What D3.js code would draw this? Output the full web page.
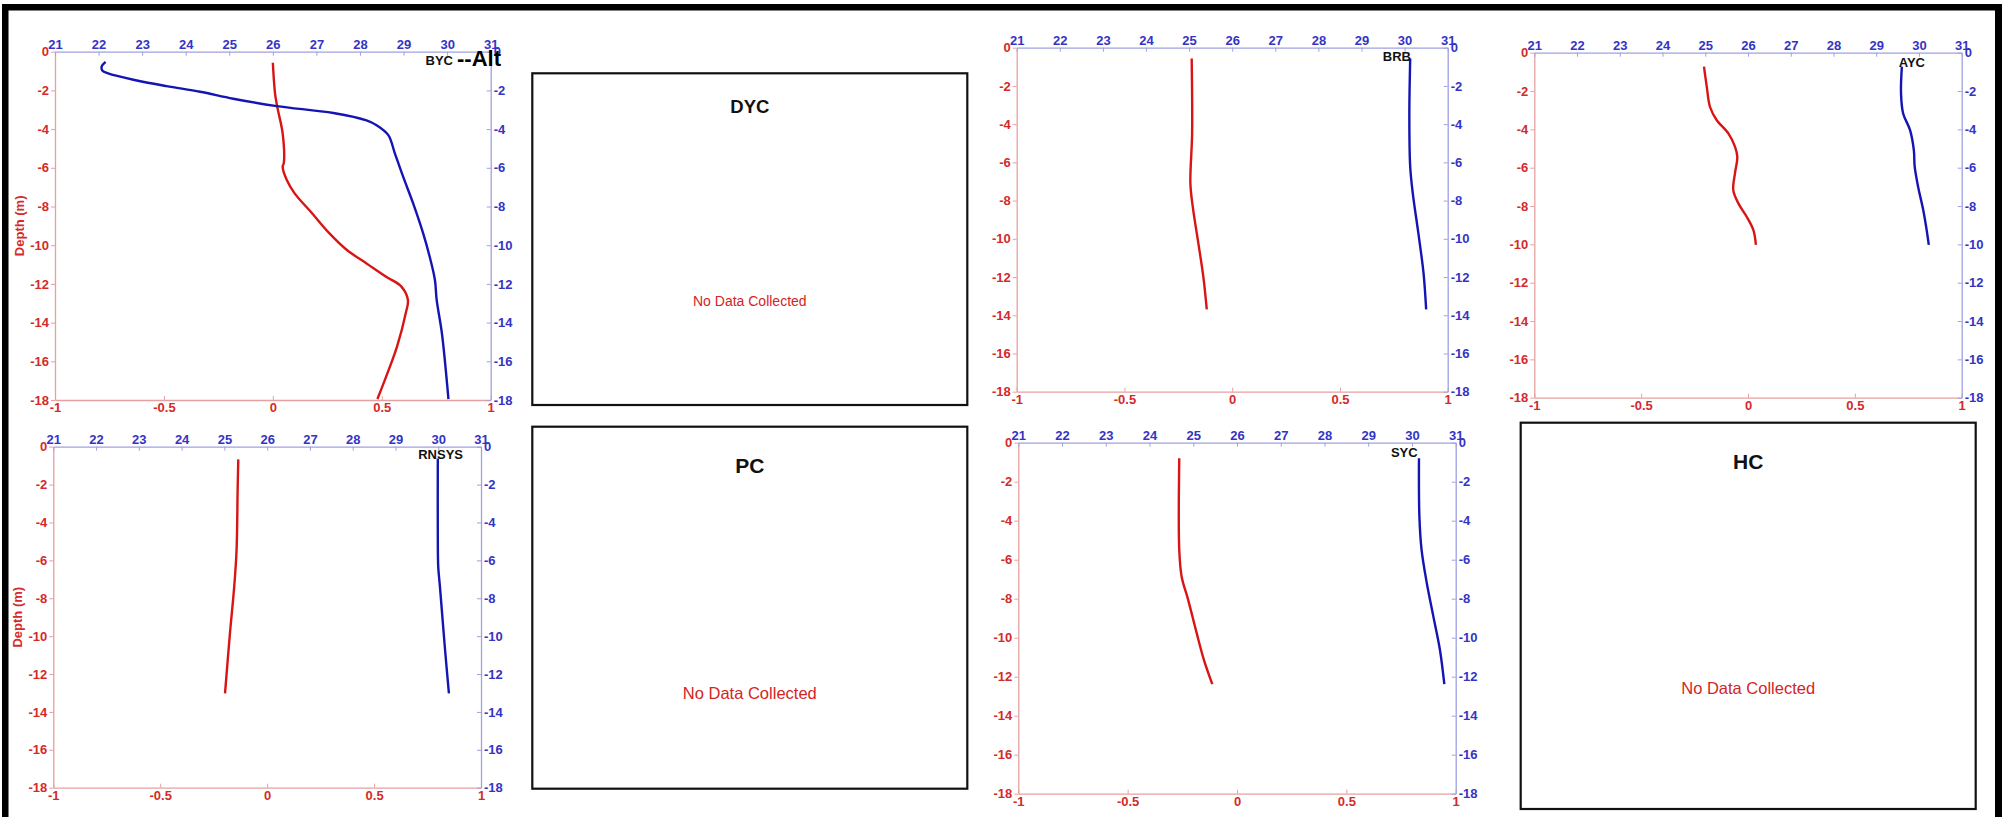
<!DOCTYPE html>
<html>
<head>
<meta charset="utf-8">
<script src="https://cdn.jsdelivr.net/npm/d3@7"></script>
<style>
body { margin: 0; background: #fff; }
svg { display: block; }
</style>
</head>
<body>
<script>
'use strict'

// axis ticks
var depthTicks = [0, -2, -4, -6, -8, -10, -12, -14, -16, -18];
var tempTicks = [21, 22, 23, 24, 25, 26, 27, 28, 29, 30, 31];
var redTicks = [-1, -0.5, 0, 0.5, 1];

// BYC
var bycBlueDepth = [-0.53, -0.78, -0.98, -1.12, -1.45, -1.78, -2.07, -2.43, -2.81, -3.17, -3.55, -3.8, -4.31, -5.25, -6.46, -7.84, -9.39, -10.6, -11.8, -12.83, -14.55, -17.95];
var bycBlue = [22.16, 22.07, 22.09, 22.22, 22.8, 23.56, 24.33, 25.09, 26.09, 27.39, 28.15, 28.38, 28.65, 28.8, 28.99, 29.22, 29.45, 29.6, 29.72, 29.76, 29.88, 30.03];
var bycRedDepth = [-0.57, -1.5, -2.15, -2.84, -4.22, -5.77, -5.94, -6.63, -7.32, -8.35, -9.39, -10.25, -10.94, -11.63, -12.14, -12.83, -13.52, -15.24, -16.79, -17.95];
var bycRed = [0.0, 0.005, 0.01, 0.02, 0.045, 0.05, 0.045, 0.064, 0.1, 0.18, 0.26, 0.34, 0.43, 0.52, 0.59, 0.62, 0.61, 0.57, 0.52, 0.48];

// RNSYS
var rnsysRedDepth = [-0.67, -2.29, -5.45, -7.39, -9.85, -13.02];
var rnsysRed = [-0.135, -0.138, -0.143, -0.154, -0.174, -0.197];
var rnsysBlueDepth = [-0.62, -4.58, -6.33, -7.39, -10.73, -13.02];
var rnsysBlue = [29.99, 29.99, 30.0, 30.04, 30.16, 30.25];

// BRB
var brbRedDepth = [-0.56, -4.48, -7.1, -8.32, -10.24, -11.98, -13.69];
var brbRed = [-0.188, -0.186, -0.194, -0.183, -0.157, -0.134, -0.118];
var brbBlueDepth = [-0.56, -3.61, -6.23, -7.62, -9.72, -11.81, -13.69];
var brbBlue = [30.13, 30.11, 30.13, 30.19, 30.32, 30.44, 30.5];

// AYC
var aycRedDepth = [-0.73, -1.77, -2.82, -3.51, -4.21, -4.9, -5.43, -6.3, -7.17, -7.86, -8.56, -9.25, -10.03];
var aycRed = [-0.206, -0.193, -0.178, -0.147, -0.092, -0.061, -0.05, -0.061, -0.069, -0.045, -0.006, 0.025, 0.037];
var aycBlueDepth = [-0.73, -2.12, -3.17, -4.03, -5.08, -5.95, -6.99, -8.21, -9.25, -10.03];
var aycBlue = [29.6, 29.58, 29.63, 29.79, 29.88, 29.9, 29.98, 30.1, 30.18, 30.23];

// SYC
var sycRedDepth = [-0.8, -5.5, -6.87, -8.07, -9.78, -11.15, -12.38];
var sycRed = [-0.264, -0.264, -0.253, -0.223, -0.184, -0.151, -0.113];
var sycBlueDepth = [-0.8, -3.79, -5.5, -7.21, -8.92, -10.63, -12.38];
var sycBlue = [30.16, 30.17, 30.22, 30.34, 30.49, 30.64, 30.74];

// stations without data
var emptyStations = ["DYC", "PC", "HC"];
var noDataText = "No Data Collected";

function zipProfile(values, depths) {
  return values.map(function(v, i) { return {v: v, d: depths[i]}; });
}

var profiles = [
  {name: "BYC", red: zipProfile(bycRed, bycRedDepth), blue: zipProfile(bycBlue, bycBlueDepth)},
  {name: "RNSYS", red: zipProfile(rnsysRed, rnsysRedDepth), blue: zipProfile(rnsysBlue, rnsysBlueDepth)},
  {name: "BRB", red: zipProfile(brbRed, brbRedDepth), blue: zipProfile(brbBlue, brbBlueDepth)},
  {name: "AYC", red: zipProfile(aycRed, aycRedDepth), blue: zipProfile(aycBlue, aycBlueDepth)},
  {name: "SYC", red: zipProfile(sycRed, sycRedDepth), blue: zipProfile(sycBlue, sycBlueDepth)}
];

// layout of each panel on the page
var plotLayout = {
  BYC:   {left: 55,   top: 51.7,  right: 490.7,  bottom: 400,   depthLabel: true,  tagRight: 37.7, tagDown: 13.5, extra: "--Alt"},
  RNSYS: {left: 53.3, top: 446.7, right: 481,    bottom: 787.7, depthLabel: true,  tagRight: 18,   tagDown: 12.5},
  BRB:   {left: 1016.7, top: 47.7, right: 1447.7, bottom: 391.7, depthLabel: false, tagRight: 36.7, tagDown: 13.5},
  AYC:   {left: 1534.3, top: 52.7, right: 1961.7, bottom: 397.7, depthLabel: false, tagRight: 36.7, tagDown: 14},
  SYC:   {left: 1018.3, top: 442.7, right: 1455.7, bottom: 793.7, depthLabel: false, tagRight: 38,  tagDown: 14.3}
};
var boxLayout = {
  DYC: {left: 532.3, top: 73.3,  right: 967.3,  bottom: 405,   titleY: 113.3, titleSize: 18.5, msgY: 306, msgSize: 14},
  PC:  {left: 532.3, top: 426.7, right: 967.3,  bottom: 788.7, titleY: 472.7, titleSize: 21,   msgY: 699, msgSize: 16.5},
  HC:  {left: 1520.7, top: 422.7, right: 1975.7, bottom: 809,  titleY: 469.3, titleSize: 21,   msgY: 694, msgSize: 16.5}
};

var W = 2007, H = 817;
var FONT = "'Liberation Sans', Arial, Helvetica, sans-serif";
var redLabel = "#d42a2a", redAxis = "#e6a0a0", redLine = "#d81414";
var blueLabel = "#3434c4", blueAxis = "#a0a0e2", blueLine = "#1414b4";

var svg = d3.select("body")
  .append("svg")
  .attr("width", W)
  .attr("height", H);

svg.append("rect").attr("width", W).attr("height", H).attr("fill", "#fff");

var fmt = function(d) { return String(d); };

function styleAxis(g, lineColor, textColor) {
  g.attr("font-size", 13)
   .attr("font-family", FONT)
   .attr("font-weight", "bold");
  g.select(".domain").attr("stroke", lineColor).attr("stroke-width", 1.3);
  g.selectAll(".tick line").attr("stroke", lineColor).attr("stroke-width", 1);
  g.selectAll(".tick text").attr("fill", textColor);
}

profiles.forEach(function(p) {
  var L = plotLayout[p.name];
  var xRed = d3.scaleLinear().domain([-1, 1]).range([L.left, L.right]);
  var xBlue = d3.scaleLinear().domain([21, 31]).range([L.left, L.right]);
  var y = d3.scaleLinear().domain([-18, 0]).range([L.bottom, L.top]);

  var g = svg.append("g").attr("class", "panel");

  // red axes (bottom, left)
  g.append("g")
    .attr("transform", "translate(0," + L.bottom + ")")
    .call(d3.axisBottom(xRed).tickValues(redTicks).tickFormat(fmt).tickSize(-4).tickSizeOuter(0).tickPadding(3))
    .call(styleAxis, redAxis, redLabel);
  g.append("g")
    .attr("transform", "translate(" + L.left + ",0)")
    .call(d3.axisLeft(y).tickValues(depthTicks).tickFormat(fmt).tickSize(4).tickSizeOuter(0).tickPadding(2))
    .call(styleAxis, redAxis, redLabel);

  // blue axes (top, right)
  g.append("g")
    .attr("transform", "translate(0," + L.top + ")")
    .call(d3.axisTop(xBlue).tickValues(tempTicks).tickFormat(fmt).tickSize(-4).tickSizeOuter(0).tickPadding(3))
    .call(styleAxis, blueAxis, blueLabel);
  g.append("g")
    .attr("transform", "translate(" + L.right + ",0)")
    .call(d3.axisRight(y).tickValues(depthTicks).tickFormat(fmt).tickSize(-4).tickSizeOuter(0).tickPadding(3))
    .call(styleAxis, blueAxis, blueLabel);

  if (L.depthLabel) {
    g.append("text")
      .attr("transform", "translate(" + (L.left - 31) + "," + ((L.top + L.bottom) / 2) + ") rotate(-90)")
      .attr("text-anchor", "middle")
      .attr("font-family", FONT)
      .attr("font-weight", "bold")
      .attr("font-size", 13)
      .attr("fill", redLabel)
      .text("Depth (m)");
  }

  var redPath = d3.line()
    .x(function(d) { return xRed(d.v); })
    .y(function(d) { return y(d.d); })
    .curve(d3.curveCatmullRom.alpha(0.5));
  var bluePath = d3.line()
    .x(function(d) { return xBlue(d.v); })
    .y(function(d) { return y(d.d); })
    .curve(d3.curveCatmullRom.alpha(0.5));

  g.append("path")
    .datum(p.red)
    .attr("d", redPath)
    .attr("fill", "none")
    .attr("stroke", redLine)
    .attr("stroke-width", 2.4)
    .attr("stroke-linejoin", "round");
  g.append("path")
    .datum(p.blue)
    .attr("d", bluePath)
    .attr("fill", "none")
    .attr("stroke", blueLine)
    .attr("stroke-width", 2.4)
    .attr("stroke-linejoin", "round");

  // station tag
  g.append("text")
    .attr("x", L.right - L.tagRight)
    .attr("y", L.top + L.tagDown)
    .attr("text-anchor", "end")
    .attr("font-family", FONT)
    .attr("font-weight", "bold")
    .attr("font-size", 13)
    .attr("fill", "#111")
    .text(p.name);
  if (L.extra) {
    g.append("text")
      .attr("x", L.right - L.tagRight + 4)
      .attr("y", L.top + L.tagDown + 1)
      .attr("font-family", FONT)
      .attr("font-weight", "bold")
      .attr("font-size", 22)
      .attr("fill", "#000")
      .text(L.extra);
  }
});

// empty stations
emptyStations.forEach(function(name) {
  var B = boxLayout[name];
  var g = svg.append("g").attr("class", "empty");
  g.append("rect")
    .attr("x", B.left).attr("y", B.top)
    .attr("width", B.right - B.left).attr("height", B.bottom - B.top)
    .attr("fill", "#fff")
    .attr("stroke", "#111")
    .attr("stroke-width", 2.2);
  var cx = (B.left + B.right) / 2;
  g.append("text")
    .attr("x", cx).attr("y", B.titleY)
    .attr("text-anchor", "middle")
    .attr("font-family", FONT)
    .attr("font-weight", "bold")
    .attr("font-size", B.titleSize)
    .attr("fill", "#111")
    .text(name);
  g.append("text")
    .attr("x", cx).attr("y", B.msgY)
    .attr("text-anchor", "middle")
    .attr("font-family", FONT)
    .attr("font-size", B.msgSize)
    .attr("fill", "#d42424")
    .text(noDataText);
});

// black frame (top, left, right)
svg.append("rect").attr("x", 2).attr("y", 4).attr("width", 2000).attr("height", 6.5).attr("fill", "#000");
svg.append("rect").attr("x", 2).attr("y", 4).attr("width", 6.5).attr("height", H).attr("fill", "#000");
svg.append("rect").attr("x", 1995).attr("y", 4).attr("width", 7).attr("height", H).attr("fill", "#000");
</script>
</body>
</html>
